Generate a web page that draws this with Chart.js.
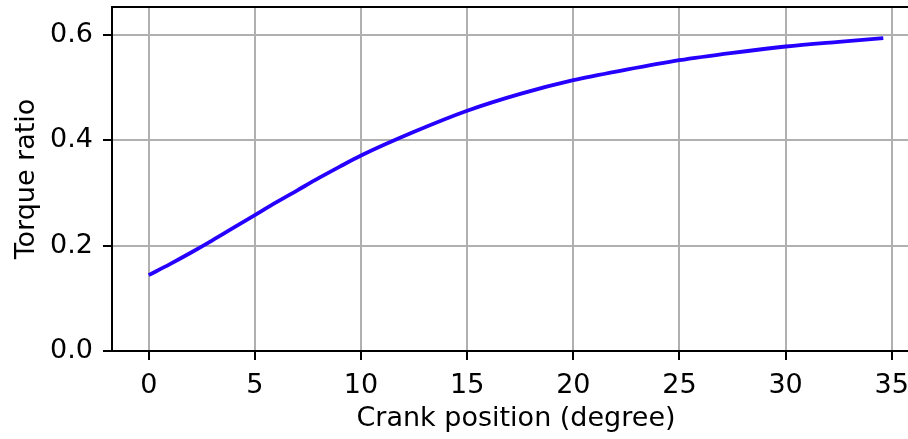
<!DOCTYPE html>
<html>
<head>
<meta charset="utf-8">
<script src="https://cdn.jsdelivr.net/npm/chart.js@4"></script>
<style>
  html, body { margin: 0; padding: 0; background: #fff; }
  #wrap { width: 908px; height: 439px; overflow: hidden; }
</style>
</head>
<body>
<div id="wrap"><canvas id="torque_chart" width="920" height="439"></canvas></div>
<script>
const crankDeg = [0, 1, 2, 3, 4, 5, 6, 7, 8, 9, 10, 12.5, 15, 17.5, 20, 22.5, 25, 27.5, 30, 32.5, 34.6];
const torqueRatio = [0.144, 0.165, 0.187, 0.210, 0.234, 0.258, 0.282, 0.305, 0.328, 0.350, 0.371,
                     0.416, 0.456, 0.488, 0.514, 0.534, 0.552, 0.566, 0.578, 0.587, 0.594];
const xTicks = [0, 5, 10, 15, 20, 25, 30, 35];
const yTicks = [0.0, 0.2, 0.4, 0.6];

const ctx = document.getElementById('torque_chart');
const tickFont = { family: 'DejaVu Sans', size: 27 };

// black box around the plot area
const frame = {
  id: 'frame',
  afterDraw(chart) {
    const a = chart.chartArea;
    const c = chart.ctx;
    c.save();
    c.strokeStyle = '#000';
    c.lineWidth = 2;
    c.strokeRect(a.left, a.top, a.right - a.left, a.bottom - a.top);
    c.restore();
  }
};

new Chart(ctx, {
  type: 'line',
  data: {
    datasets: [{
      data: crankDeg.map((d, i) => ({ x: d, y: torqueRatio[i] })),
      borderColor: 'rgb(38, 0, 255)',
      borderWidth: 3.8,
      pointRadius: 0,
      cubicInterpolationMode: 'monotone',
      fill: false
    }]
  },
  options: {
    responsive: false,
    animation: false,
    layout: { padding: { top: 7, left: 0, right: 0, bottom: 0 } },
    plugins: { legend: { display: false }, tooltip: { enabled: false } },
    scales: {
      x: {
        type: 'linear',
        min: -1.73,
        max: 36.33,
        afterBuildTicks: (s) => { s.ticks = xTicks.map(v => ({ value: v })); },
        afterFit: (s) => { s.height = 88; s.paddingLeft = 0; s.paddingRight = 0; },
        border: { display: false },
        grid: { color: '#b0b0b0', lineWidth: 2, tickColor: '#000', tickWidth: 2, tickLength: 9 },
        ticks: { color: '#000', font: tickFont, padding: 10, maxRotation: 0 },
        title: {
          display: true,
          text: 'Crank position (degree)',
          color: '#000',
          font: tickFont,
          padding: { top: 0, bottom: 4 }
        }
      },
      y: {
        min: 0,
        max: 0.653,
        afterBuildTicks: (s) => { s.ticks = yTicks.map(v => ({ value: v })); },
        afterFit: (s) => { s.width = 112; s.paddingTop = 0; s.paddingBottom = 0; },
        border: { display: false },
        grid: { color: '#b0b0b0', lineWidth: 2, tickColor: '#000', tickWidth: 2, tickLength: 9 },
        ticks: { color: '#000', font: tickFont, padding: 10, callback: (v) => v.toFixed(1) },
        title: {
          display: true,
          text: 'Torque ratio',
          color: '#000',
          font: tickFont,
          padding: { top: 11, bottom: 0 }
        }
      }
    }
  },
  plugins: [frame]
});
</script>
</body>
</html>
